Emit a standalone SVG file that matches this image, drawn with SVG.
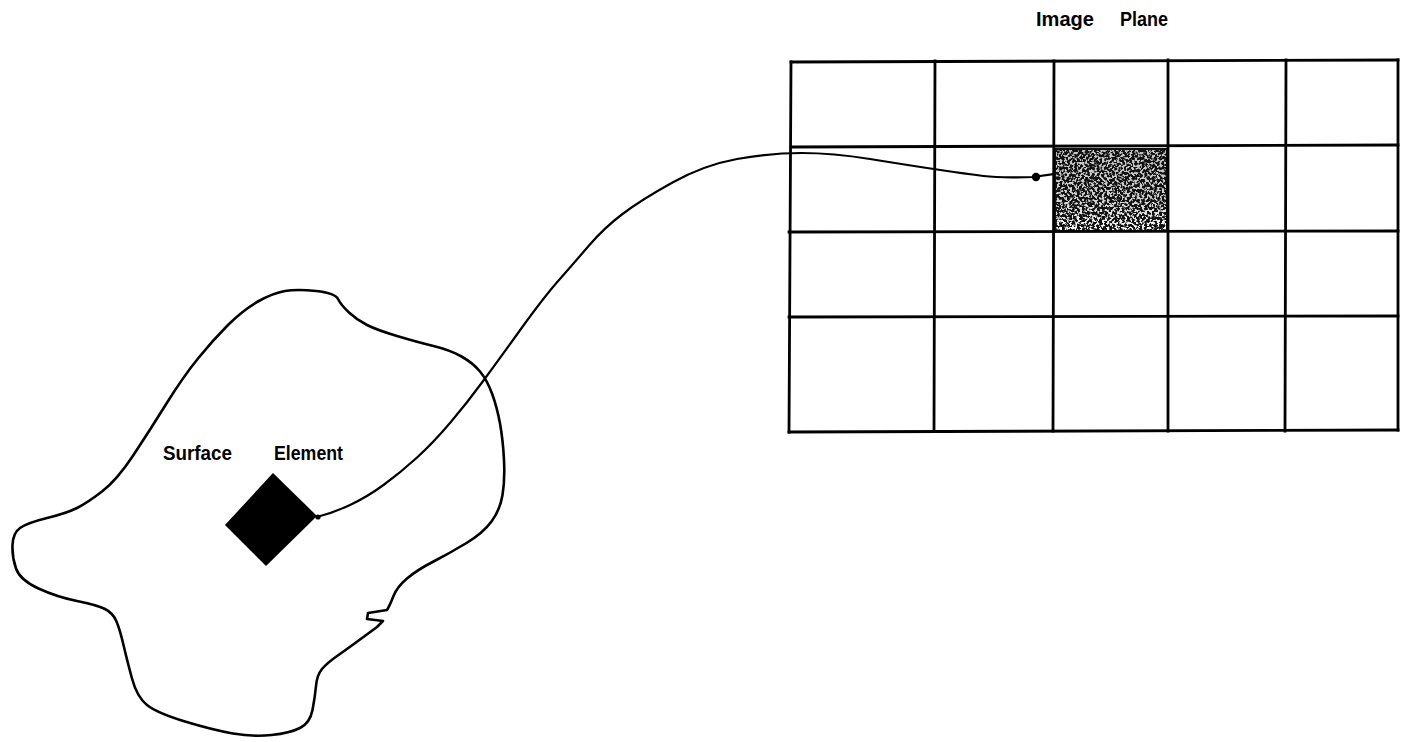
<svg xmlns="http://www.w3.org/2000/svg" width="1405" height="742" viewBox="0 0 1405 742">
  <style>
    .ln { fill: none; stroke: #000; stroke-linecap: square; stroke-linejoin: round; }
    .grid { stroke-width: 2.8; }
    .blob { stroke-width: 2.6; }
    .conn { stroke-width: 2.2; }
    .lbl { font-family: "Liberation Sans", Arial, sans-serif; font-size: 21px; font-weight: bold; fill: #000; }
  </style>
  <defs>
    <filter id="speck" x="0" y="0" width="1" height="1" color-interpolation-filters="sRGB">
      <feTurbulence type="fractalNoise" baseFrequency="0.4" numOctaves="2" seed="7" result="n"/>
      <feColorMatrix in="n" type="matrix" values="0 0 0 0 1  0 0 0 0 1  0 0 0 0 1  9 0 0 0 -4.3"/>
    </filter>
    <linearGradient id="fade" x1="0" y1="0" x2="0" y2="1">
      <stop offset="0" stop-color="#fff" stop-opacity="0.75"/>
      <stop offset="0.6" stop-color="#fff" stop-opacity="0.8"/>
      <stop offset="1" stop-color="#fff" stop-opacity="1"/>
    </linearGradient>
    <mask id="fadeMask" maskUnits="userSpaceOnUse" x="1054" y="147" width="116" height="86">
      <rect x="1054" y="147" width="116" height="86" fill="url(#fade)"/>
    </mask>
  </defs>

  <g id="image-plane">
    <g id="pixel-highlight">
      <rect x="1054" y="148" width="114" height="84" fill="#111"/>
      <rect x="1056" y="150" width="110" height="80" fill="#fff" filter="url(#speck)" mask="url(#fadeMask)"/>
    </g>
    <g id="grid" class="ln grid">
      <line x1="791" y1="62" x2="1398" y2="60"/>
      <line x1="791" y1="147" x2="1398" y2="145"/>
      <line x1="789" y1="232" x2="1398" y2="231"/>
      <line x1="789" y1="317" x2="1398" y2="316"/>
      <line x1="789" y1="432" x2="1398" y2="430"/>
      <line x1="791" y1="62" x2="789" y2="432"/>
      <line x1="935" y1="61" x2="934" y2="431"/>
      <line x1="1054" y1="61" x2="1053" y2="431"/>
      <line x1="1168" y1="60" x2="1168" y2="431"/>
      <line x1="1286" y1="60" x2="1285" y2="431"/>
      <line x1="1398" y1="60" x2="1398" y2="430"/>
    </g>
    <text class="lbl" y="26"><tspan x="1036" textLength="58" lengthAdjust="spacingAndGlyphs">Image</tspan><tspan x="1120" textLength="48" lengthAdjust="spacingAndGlyphs">Plane</tspan></text>
  </g>

  <g id="surface">
    <path class="ln blob" d="M 377,627 Q 350,647 338.5,655 Q 327,663 322,669 Q 317,675 316,686 Q 315,697 312.5,710 Q 310,723 300,728 Q 290,733 271.5,735 Q 253,737 233,733.5 Q 213,730 185,721.5 Q 157,713 147,705 Q 137,697 132,678.5 Q 127,660 123.5,645 Q 120,630 116.5,621.5 Q 113,613 105,609 Q 97,605 77,601 Q 57,597 38.5,588.5 Q 20,580 16,568.5 Q 12,557 12.5,545 Q 13,533 20,528 Q 27,523 47,518 Q 67,513 77,508 Q 87,503 102,491.5 Q 117,480 133.5,455 Q 150,430 166.5,403.5 Q 183,377 198,358.5 Q 213,340 228,325 Q 243,310 258,301.5 Q 273,293 285,291 Q 297,289 316,291 Q 335,293 338,299 Q 341,305 349,312.5 Q 357,320 367,325 Q 377,330 397,336 Q 417,342 433.5,346 Q 450,350 461.5,356.5 Q 473,363 480,371.5 Q 487,380 492,393.5 Q 497,407 500,423.5 Q 503,440 504,460 Q 505,480 502.5,495 Q 500,510 491.5,521.5 Q 483,533 466.5,543 Q 450,553 433.5,561.5 Q 417,570 407,578.5 Q 397,587 393.5,596 Q 390,605 387,610 L 368,613 L 367,619 L 383,621 L 377,627 Z"/>
    <text class="lbl" y="460"><tspan x="163" textLength="69" lengthAdjust="spacingAndGlyphs">Surface</tspan><tspan x="274" textLength="69" lengthAdjust="spacingAndGlyphs">Element</tspan></text>
  </g>

  <g id="surface-element">
    <polygon points="273,473 317,516 266,566 225,525" fill="#000"/>
  </g>

  <g id="connectors">
    <path class="ln conn" d="M 317,517 Q 333,513 350,505 Q 367,497 383.5,485 Q 400,473 416.5,458 Q 433,443 450,423 Q 467,403 483.5,380.5 Q 500,358 522,327.5 Q 544,297 559,280 Q 574,263 589,245.5 Q 604,228 622.5,214 Q 641,200 672.5,182.5 Q 704,165 737,159 Q 770,153 801.5,153 Q 833,153 870,159 Q 907,165 937,169.5 Q 967,174 983.5,176 Q 1000,178 1033,177 L 1054,174"/>
    <circle cx="318" cy="517" r="2.6" fill="#000"/>
    <circle cx="1036" cy="177" r="4.2" fill="#000"/>
  </g>
</svg>
